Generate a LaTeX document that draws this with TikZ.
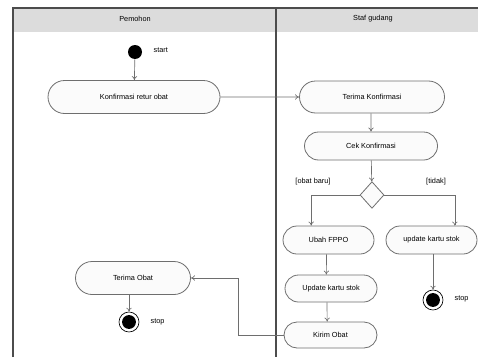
\documentclass[tikz,border=0pt]{standalone}
\usepackage{fontspec}
\setmainfont{Liberation Sans}
\usetikzlibrary{shapes,shapes.geometric,shapes.misc,arrows.meta}
\definecolor{linegray}{HTML}{6E6E6E}
\definecolor{lanegray}{HTML}{DCDCDC}
\definecolor{actfill}{HTML}{FBFBFB}

\begin{document}
\begin{tikzpicture}[x=0.75pt,y=-0.75pt]
			\tikzstyle{every node}=[font=\fontsize{5.5}{6.5}\selectfont]
			\tikzstyle{act}=[rounded rectangle, draw=linegray, fill=actfill, inner sep=0pt, line width=0.6pt]
			\tikzstyle{flow}=[draw=linegray, line width=0.5pt, -{To[length=3pt,width=4pt]}]
			\tikzstyle{startnode}=[circle, fill=black, minimum size=10.5pt, inner sep=0pt]
			\tikzstyle{stopnode}=[circle, draw=black, fill=white, minimum size=15pt, inner sep=0pt, line width=0.5pt,
				path picture={\fill[black] (path picture bounding box.center) circle (5.2pt);}]
			\tikzstyle{decision}=[diamond, draw=linegray, fill=actfill, minimum width=18pt, minimum height=20pt, inner sep=0pt, line width=0.6pt]
			\useasboundingbox (0,0) rectangle (478,357);
			% swimlanes
			\fill[lanegray] (13,8) rectangle (478,32);
			\draw[black!70, line width=0.8pt] (13,357) -- (13,8) -- (478,8);
			\draw[black!70, line width=0.8pt] (276,8) -- (276,357);
			\node (pemohon) at (135,19) {Pemohon};
			\node (staf) at (373,19) {Staf gudang};
			% Pemohon
			\node[startnode] (start) at (135,52) {};
			\node[right] (startlbl) at (149,50) {start};
			\node[act, minimum width=129pt, minimum height=24.75pt] (konfretur) at (134,97) {Konfirmasi retur obat};
			\node[act, minimum width=86.25pt, minimum height=24.75pt] (terimaobat) at (133,278) {Terima Obat};
			\node[stopnode] (stopL) at (129,322) {};
			\node[right] (stopLlbl) at (146,322) {stop};
			% Staf gudang
			\node[act, minimum width=108.75pt, minimum height=24pt] (terimakonf) at (372,97) {Terima Konfirmasi};
			\node[act, minimum width=99.75pt, minimum height=21pt] (cekkonf) at (371,146) {Cek Konfirmasi};
			\node[decision] (cabang) at (372,195) {};
			\node (obatbaru) at (313,182) {[obat baru]};
			\node (tidak) at (436,182) {[tidak]};
			\node[act, minimum width=68.25pt, minimum height=21pt] (ubahfppo) at (328.5,240) {Ubah FPPO};
			\node[act, minimum width=68.25pt, minimum height=21pt] (updkanan) at (431.5,240) {update kartu stok};
			\node[act, minimum width=69pt, minimum height=20.25pt] (updkiri) at (331,288.5) {Update kartu stok};
			\node[act, minimum width=69.75pt, minimum height=19.5pt] (kirimobat) at (330.5,335) {Kirim Obat};
			\node[stopnode] (stopR) at (433,300) {};
			\node[right] (stopRlbl) at (450,299) {stop};
			\coordinate (belok) at (238,335);
			% alur
			\draw[flow] (start) -- (konfretur);
			\draw[flow] (konfretur) -- (terimakonf);
			\draw[flow] (terimakonf.south -| cekkonf) -- (cekkonf);
			\draw[flow] (cekkonf) -- (cabang);
			\draw[flow] (cabang.west) -| ([xshift=-13pt]ubahfppo.north);
			\draw[flow] (cabang.east) -| ([xshift=17.5pt]updkanan.north);
			\draw[flow] ([xshift=-1.5pt]ubahfppo.south) -- ([xshift=-3.5pt]updkiri.north);
			\draw[flow] ([xshift=-3pt]updkiri.south) -- ([xshift=-2.5pt]kirimobat.north);
			\draw[flow] (updkanan.south -| stopR) -- (stopR);
			\draw[flow] (kirimobat.west) -- (belok) |- (terimaobat.east);
			\draw[flow] (terimaobat.south -| stopL) -- (stopL);
		\end{tikzpicture}
\end{document}
